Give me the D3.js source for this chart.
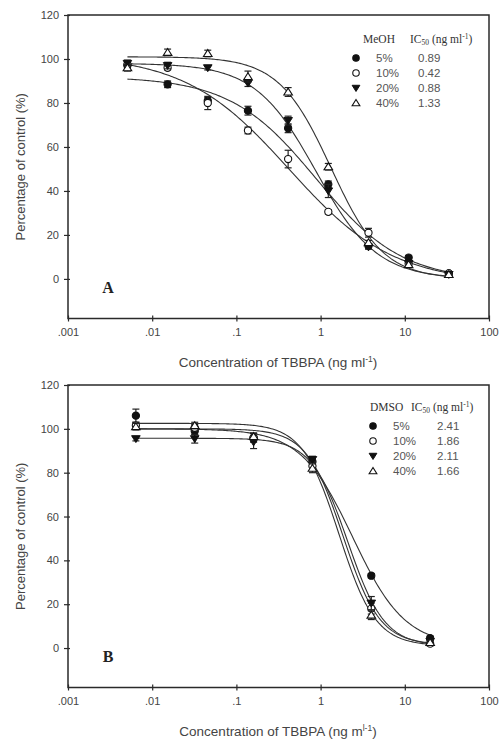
<!DOCTYPE html>
<html>
<head>
<meta charset="utf-8">
<script src="https://cdn.jsdelivr.net/npm/d3@7"></script>
<style>
  body { margin: 0; background: #fff; }
  svg { display: block; }
</style>
</head>
<body>
<div id="chart"></div>
<script>
// ---- data ----
const seriesNames = ["5%", "10%", "20%", "40%"];
const markerTypes = ["filledCircle", "openCircle", "filledTriDown", "openTriUp"];

// panel A : MeOH
const concA = [0.00508, 0.01524, 0.0457, 0.1372, 0.4115, 1.235, 3.704, 11.11, 33.33];
const meoh5 = [97, 88.5, 81, 76.5, 68.5, 43, 15, 9.7, 2.5];
const meoh10 = [97.5, 96, 80, 67.5, 54.5, 30.5, 21, 7, 2.5];
const meoh20 = [98, 97, 96, 89, 72, 40, 14.5, 7, 2];
const meoh40 = [96, 103, 102.5, 92, 85, 51, 16.5, 6.5, 2];
const meohErr5 = [1, 1.5, 1.5, 2, 2, 1.5, 1, 1, 0.8];
const meohErr10 = [2, 1, 3, 1.5, 4, 1, 2, 1, 0.8];
const meohErr20 = [1, 1.5, 1, 1.5, 2, 3, 1, 1, 0.5];
const meohErr40 = [1.5, 1.5, 1.5, 2.5, 2, 1.5, 1, 1, 0.5];
const meohIC50 = [0.89, 0.42, 0.88, 1.33];
// fitted four-parameter logistic: top, bottom, hill slope
const meohTop = [92, 102, 98, 101];
const meohBottom = [-1, -2, 0, 0];
const meohSlope = [0.85, 0.7, 1.2, 1.4];

// panel B : DMSO
const concB = [0.0064, 0.032, 0.16, 0.8, 4, 20];
const dmso5 = [106, 99, 96, 85, 33, 4.5];
const dmso10 = [101.5, 100.5, 96, 83, 18, 2];
const dmso20 = [95.5, 95.5, 94, 86, 20.5, 3];
const dmso40 = [101, 101.5, 96.5, 82, 15, 2.5];
const dmsoErr5 = [3, 1.5, 2, 1.5, 1, 1];
const dmsoErr10 = [1.5, 1.5, 2, 2, 2.5, 1];
const dmsoErr20 = [1, 2, 3, 1.5, 3, 1];
const dmsoErr40 = [1.5, 1.5, 1.5, 2, 2, 1];
const dmsoIC50 = [2.41, 1.86, 2.11, 1.66];
const dmsoTop = [100, 100, 95.7, 102.5];
const dmsoBottom = [1, 1.5, 1, 1];
const dmsoSlope = [1.4, 2.0, 2.0, 2.0];

const xTicks = [0.001, 0.01, 0.1, 1, 10, 100];
const xTickLabels = [".001", ".01", ".1", "1", "10", "100"];
const yTicks = [0, 20, 40, 60, 80, 100, 120];

// ---- layout ----
const width = 499, height = 740;
const svg = d3.select("#chart").append("svg")
  .attr("width", width).attr("height", height)
  .attr("font-family", "Arial, 'Liberation Sans', sans-serif");

const ink = "#2a2a2a";

function drawPanel(cfg) {
  const x = d3.scaleLog().domain([0.001, 100]).range([68, 489]);
  const y = d3.scaleLinear().domain([-18, 120]).range([cfg.bottom, cfg.top]);

  const g = svg.append("g");

  // frame
  g.append("rect")
    .attr("x", x.range()[0]).attr("y", y.range()[1])
    .attr("width", x.range()[1] - x.range()[0])
    .attr("height", y.range()[0] - y.range()[1])
    .attr("fill", "none").attr("stroke", ink).attr("stroke-width", 1.5);

  // x axis
  const xa = g.append("g").attr("transform", `translate(0,${cfg.bottom})`)
    .call(d3.axisBottom(x).tickValues(xTicks)
      .tickFormat((d, i) => xTickLabels[i]).tickSize(3).tickSizeOuter(0));
  xa.select(".domain").remove();
  xa.selectAll(".tick line").attr("y1", -3).attr("stroke", ink).attr("stroke-width", 1.2);
  xa.selectAll(".tick text").attr("font-size", 11).attr("fill", "#444")
    .attr("font-family", "Arial, 'Liberation Sans', sans-serif").attr("dy", "1.05em");

  // y axis
  const ya = g.append("g").attr("transform", `translate(${x.range()[0]},0)`)
    .call(d3.axisLeft(y).tickValues(yTicks).tickSize(4).tickSizeOuter(0));
  ya.select(".domain").remove();
  ya.selectAll(".tick line").attr("x1", -4).attr("x2", 2).attr("stroke", ink).attr("stroke-width", 1.2);
  ya.selectAll(".tick text").attr("font-size", 11).attr("fill", "#444")
    .attr("font-family", "Arial, 'Liberation Sans', sans-serif").attr("x", -9);

  // axis titles
  g.append("text")
    .attr("transform", `translate(20,${(y(-18) + y(120)) / 2}) rotate(-90)`)
    .attr("text-anchor", "middle").attr("dy", "0.35em")
    .attr("font-size", 13).attr("fill", "#444")
    .text("Percentage of control (%)");

  const xt = g.append("text")
    .attr("x", 278).attr("y", cfg.bottom + 48)
    .attr("text-anchor", "middle")
    .attr("font-size", 13.5).attr("fill", "#444");
  xt.append("tspan").text(cfg.xTitleMain);
  xt.append("tspan").attr("font-size", 8.5).attr("dy", -5).text(cfg.xTitleSup);
  xt.append("tspan").attr("dy", 5).text(")");

  // panel letter
  g.append("text")
    .attr("x", 108).attr("y", y(0) + 14)
    .attr("text-anchor", "middle")
    .attr("font-family", "'Liberation Serif', 'DejaVu Serif', serif")
    .attr("font-size", 16).attr("font-weight", "bold").attr("fill", "#222")
    .text(cfg.letter);

  // fitted curves
  const [c0, c1] = d3.extent(cfg.conc);
  const lc0 = Math.log10(c0), lc1 = Math.log10(c1);
  const samples = d3.range(0, 201).map(i => Math.pow(10, lc0 + (lc1 - lc0) * i / 200));
  const line = d3.line().x(d => x(d[0])).y(d => y(d[1])).curve(d3.curveLinear);
  cfg.values.forEach((vals, s) => {
    const fit = c => cfg.bottomP[s] + (cfg.topP[s] - cfg.bottomP[s]) /
      (1 + Math.pow(c / cfg.ic50[s], cfg.slope[s]));
    g.append("path")
      .attr("d", line(samples.map(c => [c, fit(c)])))
      .attr("fill", "none").attr("stroke", "#333").attr("stroke-width", 1.1);
  });

  // error bars + markers
  cfg.values.forEach((vals, s) => {
    const eg = g.append("g");
    vals.forEach((v, i) => {
      const cx = x(cfg.conc[i]);
      const e = cfg.errs[s][i];
      eg.append("line").attr("x1", cx).attr("x2", cx)
        .attr("y1", y(v - e)).attr("y2", y(v + e))
        .attr("stroke", "#222").attr("stroke-width", 1.2);
      [v - e, v + e].forEach(t => eg.append("line")
        .attr("x1", cx - 3.5).attr("x2", cx + 3.5)
        .attr("y1", y(t)).attr("y2", y(t))
        .attr("stroke", "#222").attr("stroke-width", 1.2));
    });
    vals.forEach((v, i) => drawMarker(g, markerTypes[s], x(cfg.conc[i]), y(v)));
  });

  // legend
  const lg = g.append("g");
  lg.append("text").attr("x", cfg.legX).attr("y", cfg.legY)
    .attr("font-family", "'Liberation Serif', serif").attr("font-size", 11.5).attr("fill", "#333")
    .text(cfg.solvent);
  const ic = lg.append("text").attr("x", cfg.legIcX).attr("y", cfg.legY)
    .attr("font-family", "'Liberation Serif', serif").attr("font-size", 11.5).attr("fill", "#333");
  ic.append("tspan").text("IC");
  ic.append("tspan").attr("font-size", 7.5).attr("dy", 2).text("50");
  ic.append("tspan").attr("dy", -2).text(" (ng ml");
  ic.append("tspan").attr("font-size", 7.5).attr("dy", -4).text("-1");
  ic.append("tspan").attr("dy", 4).text(")");

  seriesNames.forEach((n, s) => {
    const ry = cfg.legY + 15 + s * 15;
    drawMarker(lg, markerTypes[s], cfg.legMarkX, ry, 0.9);
    lg.append("text").attr("x", cfg.legNameX).attr("y", ry).attr("dy", "0.36em")
      .attr("font-size", 11.5).attr("fill", "#555").text(n);
    lg.append("text").attr("x", cfg.legValX).attr("y", ry).attr("dy", "0.36em")
      .attr("font-size", 11.5).attr("fill", "#555").text(d3.format(".2f")(cfg.ic50[s]));
  });
}

function drawMarker(g, type, cx, cy, k = 1) {
  const r = 3.6 * k, t = 4.3 * k;
  if (type === "filledCircle" || type === "openCircle") {
    g.append("circle").attr("cx", cx).attr("cy", cy).attr("r", r)
      .attr("fill", type === "filledCircle" ? "#111" : "#fff")
      .attr("stroke", "#111").attr("stroke-width", 1.1);
  } else if (type === "filledTriDown") {
    g.append("path")
      .attr("d", `M${cx - t},${cy - t * 0.7}L${cx + t},${cy - t * 0.7}L${cx},${cy + t * 0.9}Z`)
      .attr("fill", "#111").attr("stroke", "#111").attr("stroke-width", 1);
  } else {
    g.append("path")
      .attr("d", `M${cx - t},${cy + t * 0.7}L${cx + t},${cy + t * 0.7}L${cx},${cy - t * 0.9}Z`)
      .attr("fill", "#fff").attr("stroke", "#111").attr("stroke-width", 1.1);
  }
}

drawPanel({
  top: 15, bottom: 318.5, letter: "A", solvent: "MeOH",
  conc: concA,
  values: [meoh5, meoh10, meoh20, meoh40],
  errs: [meohErr5, meohErr10, meohErr20, meohErr40],
  ic50: meohIC50, topP: meohTop, bottomP: meohBottom, slope: meohSlope,
  xTitleMain: "Concentration of TBBPA (ng ml", xTitleSup: "-1",
  legX: 363, legIcX: 410, legY: 43, legMarkX: 356, legNameX: 376, legValX: 418
});

drawPanel({
  top: 385, bottom: 687.5, letter: "B", solvent: "DMSO",
  conc: concB,
  values: [dmso5, dmso10, dmso20, dmso40],
  errs: [dmsoErr5, dmsoErr10, dmsoErr20, dmsoErr40],
  ic50: dmsoIC50, topP: dmsoTop, bottomP: dmsoBottom, slope: dmsoSlope,
  xTitleMain: "Concentration of TBBPA (ng m", xTitleSup: "l-1",
  legX: 370, legIcX: 411, legY: 411, legMarkX: 373, legNameX: 393, legValX: 437
});
</script>
</body>
</html>
